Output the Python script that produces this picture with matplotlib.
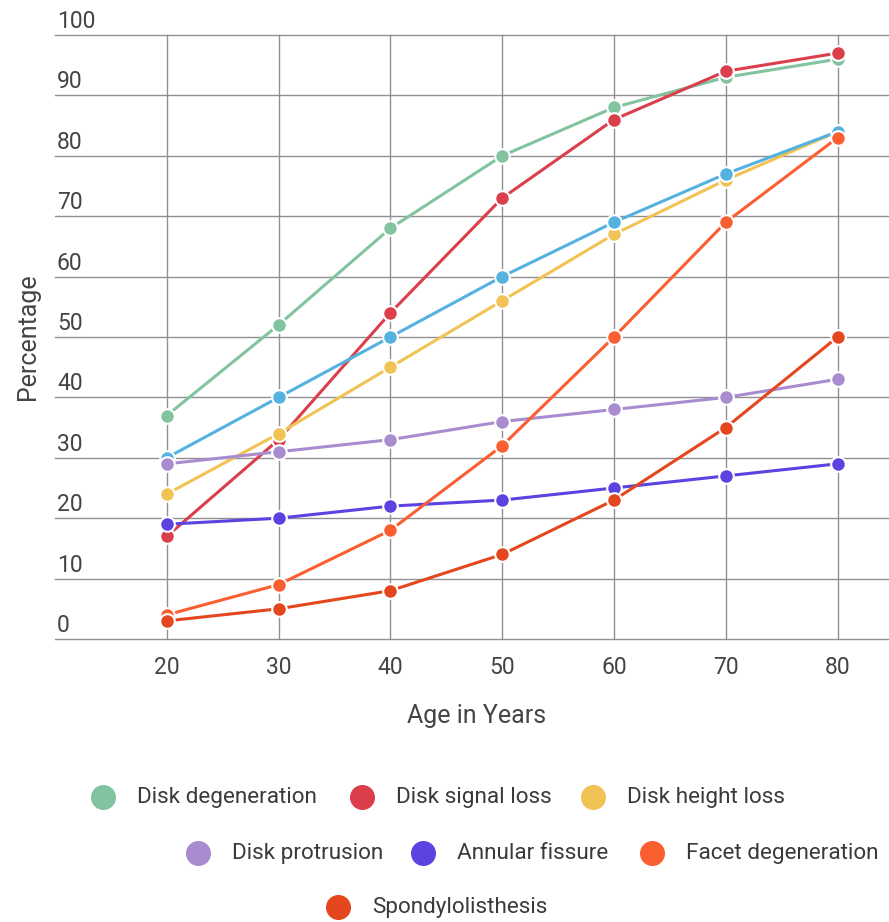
import matplotlib.pyplot as plt
from matplotlib.lines import Line2D

plt.rcParams['font.family'] = ['Roboto', 'DejaVu Sans']

# prevalence (%) of each imaging finding by age
ages = [20, 30, 40, 50, 60, 70, 80]
disk_degeneration = [37, 52, 68, 80, 88, 93, 96]
disk_signal_loss = [17, 33, 54, 73, 86, 94, 97]
disk_height_loss = [24, 34, 45, 56, 67, 76, 84]
disk_bulge = [30, 40, 50, 60, 69, 77, 84]
disk_protrusion = [29, 31, 33, 36, 38, 40, 43]
annular_fissure = [19, 20, 22, 23, 25, 27, 29]
facet_degeneration = [4, 9, 18, 32, 50, 69, 83]
spondylolisthesis = [3, 5, 8, 14, 23, 35, 50]

y_ticks = list(range(0, 101, 10))

# name, values, colour, shown in legend (draw order = list order)
series = [
    ('Disk degeneration', disk_degeneration, '#82c3a0', True),
    ('Disk signal loss', disk_signal_loss, '#da3f4b', True),
    ('Disk height loss', disk_height_loss, '#f1c354', True),
    ('Disk bulge', disk_bulge, '#55b1e0', False),
    ('Disk protrusion', disk_protrusion, '#a98ccf', True),
    ('Annular fissure', annular_fissure, '#5a43e0', True),
    ('Facet degeneration', facet_degeneration, '#fb5e30', True),
    ('Spondylolisthesis', spondylolisthesis, '#e4461e', True),
]

W, H = 889, 922
fig = plt.figure(figsize=(W / 100, H / 100), dpi=100)
ax = fig.add_axes([55 / W, (H - 639) / H, (W - 55) / W, (639 - 35) / H])
ax.set_xlim(10, 84.6)
ax.set_ylim(0, 100)
for s in ax.spines.values():
    s.set_visible(False)

ax.set_xticks(ages)
ax.set_yticks(y_ticks)
ax.grid(color='#909090', linewidth=1.0)
ax.set_axisbelow(True)
for gl in ax.get_xgridlines() + ax.get_ygridlines():
    gl.set_clip_on(False)
ax.tick_params(length=0, labelleft=False, labelsize=16.5, colors='#444444', pad=12)

# y labels sit just above their gridline
for v in y_ticks:
    ax.annotate(str(v), xy=(0, v), xycoords=('axes fraction', 'data'),
                xytext=(2, 7), textcoords='offset pixels',
                ha='left', va='baseline', fontsize=16.5, color='#444444')

for name, vals, color, _ in series:
    ax.plot(ages, vals, color=color, linewidth=2.2, marker='o', markersize=10.5,
            markerfacecolor=color, markeredgecolor='white', markeredgewidth=1.5,
            clip_on=False)

fig.text(477 / W, 1 - 716 / H, 'Age in Years', ha='center', va='center',
         fontsize=18, color='#444444')
fig.text(28 / W, 1 - 337 / H, 'Percentage', ha='center', va='center',
         rotation=90, fontsize=18, color='#444444')

# centred, wrapped legend rows
legend_pos = [(103, 797), (362, 797), (593, 797),
              (198, 853), (423, 853), (652, 853),
              (338, 907)]
shown = [s for s in series if s[3]]
for (name, _, color, _), (px, py) in zip(shown, legend_pos):
    fig.add_artist(Line2D([px / W], [1 - py / H], transform=fig.transFigure,
                          marker='o', markersize=17, color=color,
                          markeredgecolor=color, linestyle='none'))
    fig.text((px + 34) / W, 1 - py / H, name, ha='left', va='center',
             fontsize=16.2, color='#3a3a3a')

fig.savefig('out.png', dpi=100)
